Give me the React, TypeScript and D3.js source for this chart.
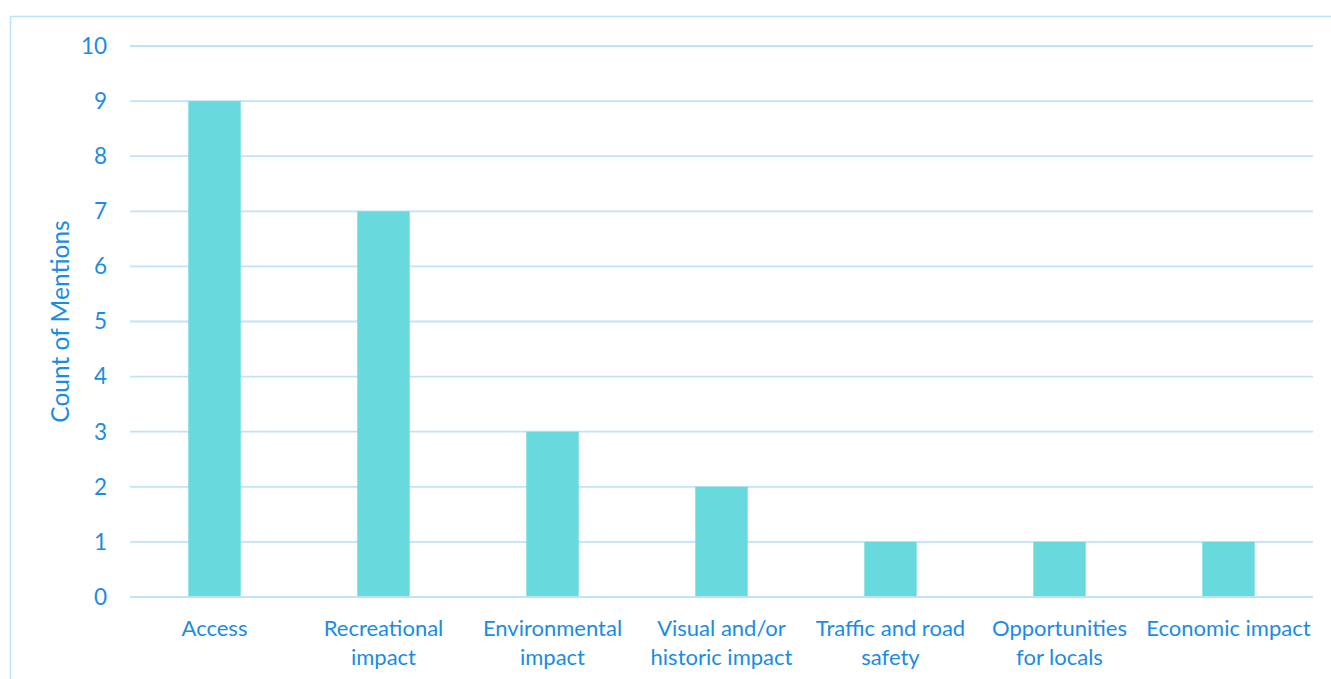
import React from "react";
import * as d3 from "d3";

const categories: string[][] = [
  ["Access"],
  ["Recreational", "impact"],
  ["Environmental", "impact"],
  ["Visual and/or", "historic impact"],
  ["Traffic and road", "safety"],
  ["Opportunities", "for locals"],
  ["Economic impact"],
];
const mentions: number[] = [9, 7, 3, 2, 1, 1, 1];
const yTicks: number[] = [0, 1, 2, 3, 4, 5, 6, 7, 8, 9, 10];
const yTitle = "Count of Mentions";

const W = 1331;
const H = 679;
const TEXT = "#1a8ce2";
const BAR = "#68d9dc";
const GRID = "#bde4f7";
const FONT = "Lato, 'Open Sans', sans-serif";

export default function App() {
  const keys = categories.map((c) => c.join(" "));
  const x = d3.scaleBand<string>().domain(keys).range([130, 1313]).padding(0);
  const y = d3.scaleLinear().domain([0, 10]).range([597, 46]);
  const barW = x.bandwidth() * 0.31;

  return (
    <svg
      width={W}
      height={H}
      style={{ position: "absolute", left: 0, top: 0, background: "#fff" }}
      fontFamily={FONT}
    >
      <rect x={10.5} y={16.5} width={W + 10} height={H + 10} fill="none" stroke={GRID} strokeWidth={1.6} />
      {yTicks.map((t) => (
        <g key={t}>
          <line x1={130} x2={1313} y1={y(t)} y2={y(t)} stroke={GRID} strokeWidth={1.8} />
          <text x={107} y={y(t)} dy="0.35em" textAnchor="end" fontSize={22.5} fill={TEXT}>
            {t}
          </text>
        </g>
      ))}
      {keys.map((k, i) => {
        const cx = (x(k) ?? 0) + x.bandwidth() / 2;
        return (
          <g key={k}>
            <rect x={cx - barW / 2} y={y(mentions[i])} width={barW} height={y(0) - y(mentions[i]) - 0.9} fill={BAR} />
            {categories[i].map((line, j) => (
              <text key={j} x={cx} y={636 + j * 29} textAnchor="middle" fontSize={22} fill={TEXT}>
                {line}
              </text>
            ))}
          </g>
        );
      })}
      <text
        transform={`translate(69, ${(y(0) + y(10)) / 2}) rotate(-90)`}
        textAnchor="middle"
        fontSize={24.5}
        fill={TEXT}
      >
        {yTitle}
      </text>
    </svg>
  );
}
